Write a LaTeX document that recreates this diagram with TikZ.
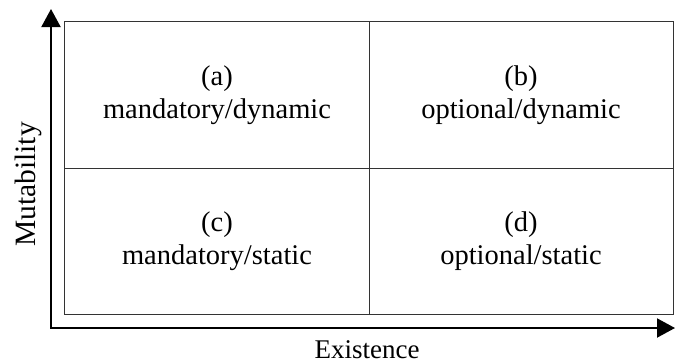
\documentclass[tikz,border=0pt]{standalone}
\usepackage{fontspec}
\setmainfont{Liberation Serif}
\usetikzlibrary{arrows.meta}
\begin{document}
\begin{tikzpicture}[x=1bp,y=1bp,
  cell/.style={draw=black!80, line width=1bp, minimum width=304bp, minimum height=146bp,
    inner sep=0pt, outer sep=0pt, align=center, font=\fontsize{28.5bp}{33bp}\selectfont},
  axistip/.tip={Triangle[length=18bp,width=19bp]},
  axis/.style={line width=2bp, line join=miter, axistip-axistip},
  axislabel/.style={inner sep=0pt, anchor=base, font=\fontsize{27bp}{32bp}\selectfont}]
  \useasboundingbox (0,0) rectangle (675,363);
  % axes
  \coordinate (ytip) at (51,354);
  \coordinate (origin) at (51,35);
  \coordinate (xtip) at (675,35);
  \draw[axis] (ytip) -- (origin) -- (xtip);
  % quadrants
  \node[cell] (qa) at (217,268) {(a)\\mandatory/dynamic};
  \node[cell] (qb) at (521,268) {(b)\\optional/dynamic};
  \node[cell] (qc) at (217,122) {(c)\\mandatory/static};
  \node[cell] (qd) at (521,122) {(d)\\optional/static};
  % axis labels
  \node[axislabel] (xlabel) at (367,5) {Existence};
  \node[axislabel, rotate=90, font=\fontsize{29.5bp}{34bp}\selectfont] (ylabel) at (35,178.5) {Mutability};
\end{tikzpicture}
\end{document}
